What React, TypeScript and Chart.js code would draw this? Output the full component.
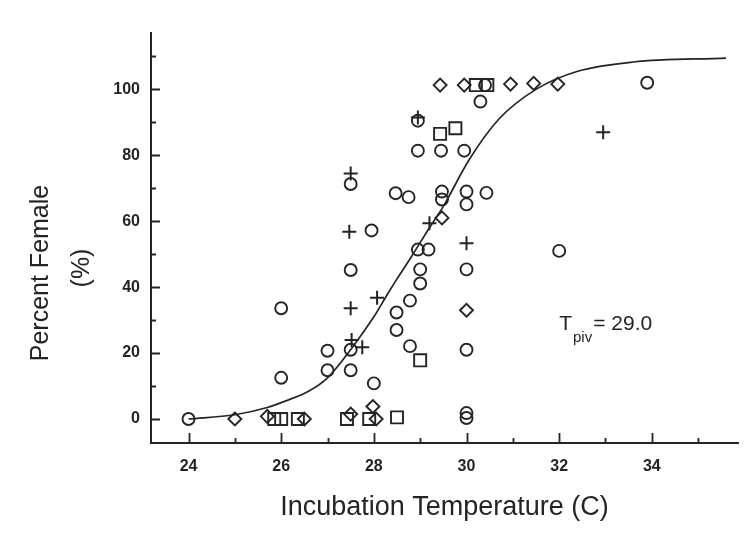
import React, { useEffect, useRef } from 'react';
import { Chart, registerables } from 'chart.js';

Chart.register(...registerables);

// ---- tick labels ----
const X_TICKS = [24, 26, 28, 30, 32, 34];
const X_MINOR = [25, 27, 29, 31, 33, 35];
const Y_TICKS = [0, 20, 40, 60, 80, 100];
const Y_MINOR = [10, 30, 50, 70, 90, 110];

// ---- series: circles ----
const CIRCLE_T = [24, 26, 26, 27, 27, 27.5, 27.5, 27.5, 27.5, 27.95, 28, 28.47, 28.75, 28.49, 28.49, 28.78, 28.78, 28.95, 28.95, 28.95, 29.18, 29, 29, 29.45, 29.47, 29.47, 29.95, 30, 30, 30.43, 30, 30, 30, 30, 30.3, 30.4, 32, 33.9];
const CIRCLE_PCT = [0, 33.6, 12.5, 20.7, 14.8, 71.3, 45.2, 21, 14.8, 57.2, 10.8, 68.5, 67.3, 32.3, 27, 35.9, 22.1, 90.5, 81.4, 51.4, 51.4, 45.4, 41.1, 81.4, 69, 66.6, 81.4, 69, 65.1, 68.6, 45.4, 21, 0.3, 1.8, 96.3, 101.3, 51, 102];

// ---- series: pluses ----
const PLUS_T = [27.5, 27.47, 27.5, 27.52, 27.75, 28.07, 28.95, 29.2, 30, 32.95];
const PLUS_PCT = [74.5, 56.8, 33.6, 24, 21.8, 36.8, 91.5, 59.4, 53.3, 87];

// ---- series: diamonds ----
const DIAMOND_T = [25, 25.7, 26.5, 27.5, 27.98, 28.05, 29.47, 29.43, 29.95, 30, 30.95, 31.45, 31.97];
const DIAMOND_PCT = [0, 0.8, 0, 1.5, 3.8, 0, 61, 101.3, 101.3, 33, 101.6, 101.8, 101.6];

// ---- series: squares ----
const SQUARE_T = [25.85, 26.0, 26.36, 27.42, 27.9, 28.5, 29.0, 29.43, 29.76, 30.2, 30.45];
const SQUARE_PCT = [0, 0, 0, 0, 0, 0.5, 17.8, 86.5, 88.2, 101.3, 101.3];

// ---- fitted curve ----
const CURVE_T = [24, 25, 25.7, 26.1, 26.6, 27, 27.55, 28, 28.3, 28.5, 28.8, 29.2, 29.5, 30.05, 30.7, 31.5, 32.4, 33.6, 35.6];
const CURVE_PCT = [0, 1.3, 3.5, 5.5, 8.5, 12.5, 22, 31, 38, 42.5, 49, 58, 64.5, 78.5, 91, 100, 105.5, 108.3, 109.5];

// ---- annotation ----
const PIVOT_LABEL = { main: 'T', sub: 'piv', rest: '= 29.0', t: 32.0, pct: 27 };

const INK = '#242424';
const FONT = "'Liberation Sans', Arial, Helvetica, sans-serif";

const pts = (xs: number[], ys: number[]) => xs.map((x, i) => ({ x, y: ys[i] }));

const decorPlugin = {
  id: 'decor',
  afterDraw(chart: any) {
    const { ctx, chartArea } = chart;
    const xs = chart.scales.x;
    const ys = chart.scales.y;
    ctx.save();
    ctx.strokeStyle = INK;
    ctx.lineWidth = 1.8;
    ctx.beginPath();
    X_TICKS.forEach((v) => {
      const px = Math.round(xs.getPixelForValue(v)) + 0.5;
      ctx.moveTo(px, chartArea.bottom);
      ctx.lineTo(px, chartArea.bottom - 10);
    });
    X_MINOR.forEach((v) => {
      const px = Math.round(xs.getPixelForValue(v)) + 0.5;
      ctx.moveTo(px, chartArea.bottom);
      ctx.lineTo(px, chartArea.bottom - 5);
    });
    Y_TICKS.forEach((v) => {
      const py = Math.round(ys.getPixelForValue(v)) + 0.5;
      ctx.moveTo(chartArea.left, py);
      ctx.lineTo(chartArea.left + 9, py);
    });
    Y_MINOR.forEach((v) => {
      const py = Math.round(ys.getPixelForValue(v)) + 0.5;
      ctx.moveTo(chartArea.left, py);
      ctx.lineTo(chartArea.left + 5, py);
    });
    ctx.stroke();

    // y-axis title (two lines, rotated)
    ctx.fillStyle = INK;
    ctx.textAlign = 'center';
    ctx.textBaseline = 'middle';
    ctx.font = `25px ${FONT}`;
    ctx.save();
    ctx.translate(41, 273);
    ctx.rotate(-Math.PI / 2);
    ctx.fillText('Percent Female', 0, 0);
    ctx.restore();
    ctx.save();
    ctx.translate(82, 268);
    ctx.rotate(-Math.PI / 2);
    ctx.fillText('(%)', 0, 0);
    ctx.restore();

    // pivotal temperature annotation
    const ax = xs.getPixelForValue(PIVOT_LABEL.t);
    const ay = ys.getPixelForValue(PIVOT_LABEL.pct);
    ctx.textAlign = 'left';
    ctx.textBaseline = 'alphabetic';
    ctx.font = `21px ${FONT}`;
    ctx.fillText(PIVOT_LABEL.main, ax, ay);
    let cx = ax + ctx.measureText(PIVOT_LABEL.main).width + 1;
    ctx.font = `15px ${FONT}`;
    ctx.fillText(PIVOT_LABEL.sub, cx, ay + 12);
    cx += ctx.measureText(PIVOT_LABEL.sub).width + 1;
    ctx.font = `21px ${FONT}`;
    ctx.fillText(PIVOT_LABEL.rest, cx, ay);
    ctx.restore();
  },
};

export default function App() {
  const ref = useRef<HTMLCanvasElement | null>(null);
  useEffect(() => {
    if (!ref.current) return;
    const markerBase = {
      borderColor: INK,
      backgroundColor: 'rgba(0,0,0,0)',
      borderWidth: 1.9,
      showLine: false,
    };
    const chart = new Chart(ref.current, {
      type: 'scatter',
      data: {
        datasets: [
          {
            data: pts(CURVE_T, CURVE_PCT),
            showLine: true,
            borderColor: INK,
            borderWidth: 1.7,
            pointRadius: 0,
            cubicInterpolationMode: 'monotone',
            fill: false,
          } as any,
          { ...markerBase, data: pts(CIRCLE_T, CIRCLE_PCT), pointStyle: 'circle', pointRadius: 6 },
          { ...markerBase, data: pts(PLUS_T, PLUS_PCT), pointStyle: 'cross', pointRadius: 7, borderWidth: 2 },
          { ...markerBase, data: pts(DIAMOND_T, DIAMOND_PCT), pointStyle: 'rectRot', pointRadius: 6.5 },
          { ...markerBase, data: pts(SQUARE_T, SQUARE_PCT), pointStyle: 'rect', pointRadius: 8.5 },
        ],
      },
      options: {
        animation: false,
        responsive: false,
        events: [],
        layout: { padding: { left: 0, top: 33, right: 13, bottom: 0 } },
        plugins: { legend: { display: false }, tooltip: { enabled: false } },
        scales: {
          x: {
            type: 'linear',
            min: 23.19,
            max: 35.86,
            grid: { display: false, drawTicks: false },
            border: { display: true, color: INK, width: 2 },
            afterBuildTicks: (s: any) => {
              s.ticks = X_TICKS.map((v) => ({ value: v }));
            },
            afterFit: (s: any) => {
              s.height = 106;
            },
            ticks: {
              color: INK,
              padding: 14,
              maxRotation: 0,
              autoSkip: false,
              font: { family: FONT, size: 16, weight: 'bold' },
              callback: (v: any) => String(v),
            },
            title: {
              display: true,
              text: 'Incubation Temperature (C)',
              color: INK,
              font: { family: FONT, size: 27 },
              padding: { top: 0, bottom: 25 },
            },
          },
          y: {
            type: 'linear',
            min: -7.28,
            max: 117.1,
            grid: { display: false, drawTicks: false },
            border: { display: true, color: INK, width: 2 },
            afterBuildTicks: (s: any) => {
              s.ticks = Y_TICKS.map((v) => ({ value: v }));
            },
            afterFit: (s: any) => {
              s.width = 151;
            },
            ticks: {
              color: INK,
              padding: 11,
              autoSkip: false,
              font: { family: FONT, size: 16, weight: 'bold' },
              callback: (v: any) => String(v),
            },
          },
        },
      } as any,
      plugins: [decorPlugin],
    });
    return () => chart.destroy();
  }, []);

  return (
    <div style={{ position: 'absolute', left: 0, top: 0, width: 751, height: 549, background: '#fff' }}>
      <canvas ref={ref} width={751} height={549} style={{ width: 751, height: 549, display: 'block' }} />
    </div>
  );
}
